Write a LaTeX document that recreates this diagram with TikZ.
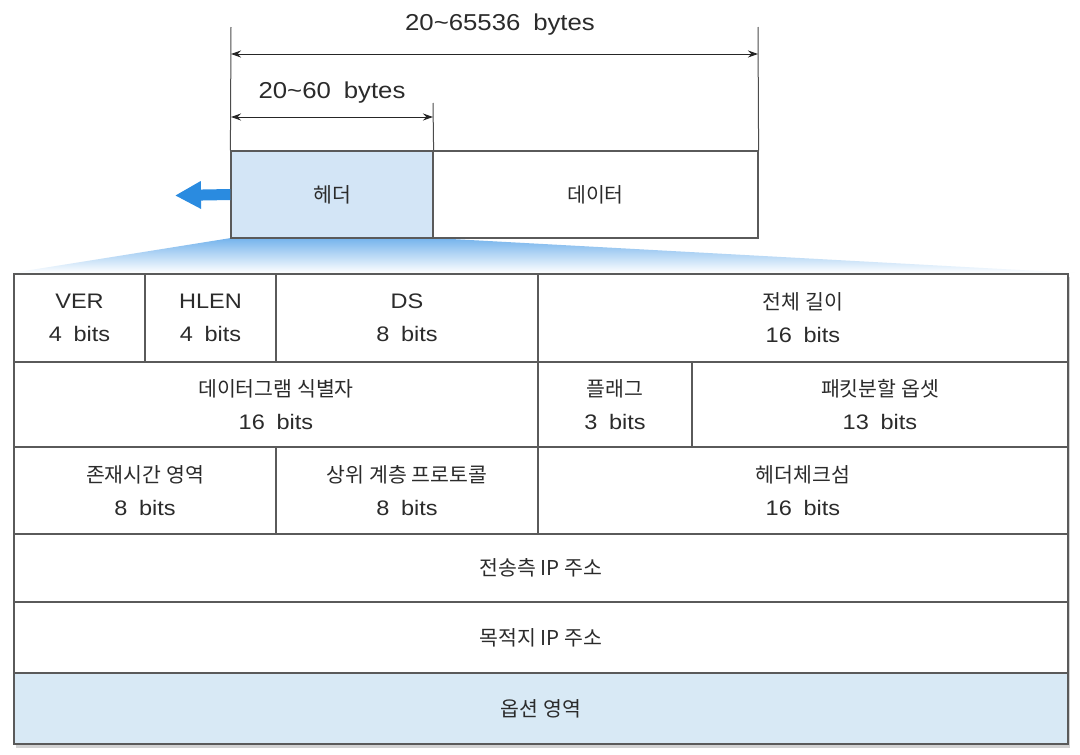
\documentclass[tikz,border=0pt]{standalone}
\usepackage{fontspec}
\setmainfont{Liberation Sans}[FakeStretch=1.12, WordSpace=1.8]
\newfontfamily\krfont{Noto Sans CJK KR}
\usetikzlibrary{arrows.meta}
\definecolor{linegray}{HTML}{5A5A5A}
\definecolor{hdrblue}{HTML}{D3E5F6}
\definecolor{optblue}{HTML}{D8E9F5}
\definecolor{fanblue}{HTML}{74B3EC}
\definecolor{arrowblue}{HTML}{2A8BE0}
\definecolor{txt}{HTML}{2B2B2B}
\newcommand\latsize{\fontsize{21}{33}\selectfont}
\newcommand\krtxt{\krfont\fontsize{20.5}{33}\selectfont}
\newcommand\toplab{\fontsize{23}{28}\selectfont}
\begin{document}
\begin{tikzpicture}[x=1pt,y=-1pt,
  cellbox/.style={draw=linegray, line width=1.2pt, fill=white, inner sep=0pt, align=center, font=\latsize, text=txt},
  dimline/.style={draw=black!85, line width=1pt, {Stealth[length=10pt,width=7pt]}-{Stealth[length=10pt,width=7pt]}},
  tickline/.style={draw=black!70, line width=1pt},
  toplabel/.style={font=\toplab, text=txt, inner sep=0pt}]
\useasboundingbox (0,0) rectangle (1080,755);
\fill[white] (0,0) rectangle (1080,755);

% fan
\shade[top color=fanblue, bottom color=white] (231,238) -- (433,238) -- (1075,273) -- (12,273) -- cycle;

% shadow of table
\fill[gray!35] (16,277) rectangle (1070,748);

% top packet
\node[cellbox, fill=hdrblue, minimum width=202pt, minimum height=87pt] (hdr) at (332,194.5) {{\krtxt 헤더}};
\node[cellbox, minimum width=325pt, minimum height=87pt] (data) at (595.5,194.5) {{\krtxt 데이터}};

% dimension lines
\coordinate (tL) at (231,27);
\coordinate (tR) at (758,27);
\coordinate (mM) at (433,103);
\draw[tickline] (tL) -- (hdr.north west);
\draw[tickline] (tR) -- (data.north east);
\draw[tickline] (mM) -- (hdr.north east);
\coordinate (a1L) at (231,54);
\coordinate (a1R) at (758,54);
\draw[dimline] (a1L) -- (a1R);
\coordinate (a2L) at (231,117);
\coordinate (a2R) at (433,117);
\draw[dimline] (a2L) -- (a2R);
\node[toplabel] (lab1) at (500,25) {20\textasciitilde65536 bytes};
\node[toplabel] (lab2) at (332,93) {20\textasciitilde60 bytes};

% blue arrow
\coordinate (bl) at (175,195.5);
\draw[arrowblue, line width=11pt, -{Triangle[length=26pt,width=26pt]}] (hdr.west) -- (bl);

% table row 1
\node[cellbox, minimum width=131pt, minimum height=88pt] (ver) at (79.5,318) {VER\\4 bits};
\node[cellbox, minimum width=131pt, minimum height=88pt] (hlen) at (210.5,318) {HLEN\\4 bits};
\node[cellbox, minimum width=262pt, minimum height=88pt] (ds) at (407,318) {DS\\8 bits};
\node[cellbox, minimum width=530pt, minimum height=88pt] (tot) at (803,318) {{\krtxt 전체 길이}\\16 bits};
% row 2
\node[cellbox, minimum width=524pt, minimum height=85pt] (ident) at (276,404.5) {{\krtxt 데이터그램 식별자}\\16 bits};
\node[cellbox, minimum width=154pt, minimum height=85pt] (flag) at (615,404.5) {{\krtxt 플래그}\\3 bits};
\node[cellbox, minimum width=376pt, minimum height=85pt] (off) at (880,404.5) {{\krtxt 패킷분할 옵셋}\\13 bits};
% row 3
\node[cellbox, minimum width=262pt, minimum height=87pt] (ttl) at (145,490.5) {{\krtxt 존재시간 영역}\\8 bits};
\node[cellbox, minimum width=262pt, minimum height=87pt] (proto) at (407,490.5) {{\krtxt 상위 계층 프로토콜}\\8 bits};
\node[cellbox, minimum width=530pt, minimum height=87pt] (cks) at (803,490.5) {{\krtxt 헤더체크섬}\\16 bits};
% rows 4-6
\node[cellbox, minimum width=1054pt, minimum height=68pt] (src) at (541,568) {{\krtxt 전송측 IP 주소}};
\node[cellbox, minimum width=1054pt, minimum height=71pt] (dst) at (541,637.5) {{\krtxt 목적지 IP 주소}};
\node[cellbox, fill=optblue, minimum width=1054pt, minimum height=71pt] (opt) at (541,708.5) {{\krtxt 옵션 영역}};
\end{tikzpicture}
\end{document}
